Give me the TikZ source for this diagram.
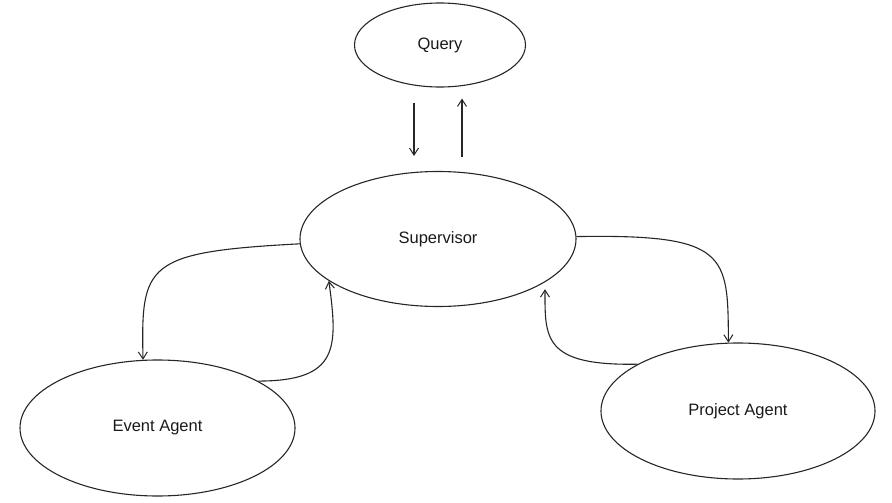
\documentclass[tikz,border=0pt]{standalone}
\usepackage{fontspec}
\setmainfont{Liberation Sans}
\usetikzlibrary{shapes.geometric,arrows.meta}
\tikzset{
  blob/.style={ellipse,draw=black!85,line width=1.1pt,inner sep=0pt,font=\fontsize{16.5}{18}\selectfont,text=black!90},
  arr/.style={draw=black!85,line width=1.1pt,-{Straight Barb[length=7pt,width=9pt,line width=1pt]}}
}
\begin{document}
\begin{tikzpicture}[x=1pt,y=-1pt]
\useasboundingbox (0,0) rectangle (892,503);
\node[blob,minimum width=171pt,minimum height=84pt] (query) at (440,45) {Query};
\node[blob,minimum width=276pt,minimum height=135pt] (sup) at (438,239) {Supervisor};
\node[blob,minimum width=275pt,minimum height=136pt] (ev) at (157.5,428) {Event Agent};
\node[blob,minimum width=274pt,minimum height=136pt] (pr) at (738,411) {Project Agent};
% query <-> supervisor
\draw[arr,shorten <=15pt,shorten >=15pt] ([xshift=-26pt]query.south) -- ([xshift=-24pt]sup.north);
\draw[arr,shorten <=14pt,shorten >=11pt] ([xshift=24pt]sup.north) -- ([xshift=22pt]query.south);
% supervisor -> event agent
\draw[arr] (sup.182) .. controls (145,252) and (141,264) .. (ev.102.5);
% event agent -> supervisor
\draw[arr] (ev.25) .. controls (339,381) and (338,348) .. (sup.201.8);
% supervisor -> project agent
\draw[arr] (sup.1) .. controls (728,234) and (728,254) .. (pr.98.4);
% project agent -> supervisor
\draw[arr,shorten >=7pt] (pr.155.3) .. controls (543,366) and (545,338) .. (sup.-22.4);
\end{tikzpicture}
\end{document}
